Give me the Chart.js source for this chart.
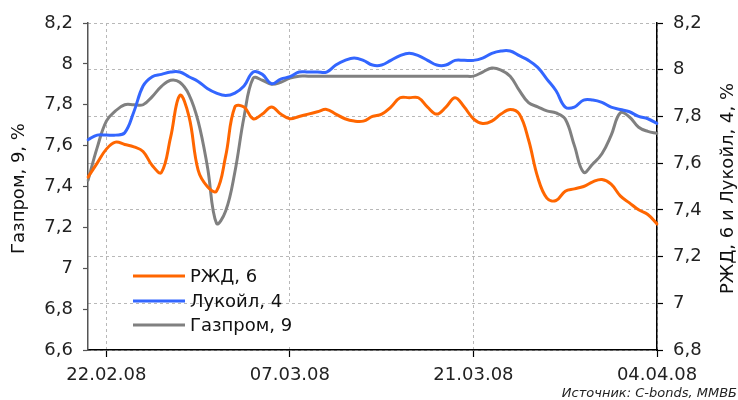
<!DOCTYPE html>
<html><head><meta charset="utf-8">
<script src="https://cdn.jsdelivr.net/npm/chart.js@4/dist/chart.umd.min.js"></script>
<style>html,body{margin:0;padding:0;background:#fff}#wrap{width:738px;height:400px;position:relative}</style>
</head><body><div id="wrap"><canvas id="c" width="738" height="400"></canvas></div>
<script>
// x-axis tick labels and the sample position (half business-day steps) where each falls
const tickLabels = ['22.02.08', '07.03.08', '21.03.08', '04.04.08'];
const tickIdx = [2, 22, 42, 62];

// РЖД, 6 (right axis)
const rzd = [7.54,7.60,7.66,7.69,7.68,7.67,7.65,7.59,7.56,7.71,7.89,7.80,7.57,7.50,7.48,7.63,7.84,7.84,7.79,7.81,
  7.84,7.81,7.79,7.80,7.81,7.82,7.83,7.81,7.79,7.78,7.78,7.80,7.81,7.84,7.88,7.88,7.88,7.84,7.81,7.84,
  7.88,7.84,7.79,7.77,7.78,7.81,7.83,7.81,7.70,7.54,7.45,7.44,7.48,7.49,7.50,7.52,7.53,7.51,7.46,7.43,
  7.40,7.38,7.34];
// Лукойл, 4 (right axis)
const lukoil = [7.70,7.72,7.72,7.72,7.73,7.82,7.93,7.97,7.98,7.99,7.99,7.97,7.95,7.92,7.90,7.89,7.90,7.93,7.99,7.98,
  7.94,7.96,7.97,7.99,7.99,7.99,7.99,8.02,8.04,8.05,8.04,8.02,8.02,8.04,8.06,8.07,8.06,8.04,8.02,8.02,
  8.04,8.04,8.04,8.05,8.07,8.08,8.08,8.06,8.04,8.01,7.96,7.91,7.84,7.84,7.87,7.87,7.86,7.84,7.83,7.82,
  7.80,7.79,7.77];
// Газпром, 9 (left axis)
const gazprom = [7.43,7.59,7.72,7.77,7.80,7.80,7.80,7.84,7.89,7.92,7.91,7.85,7.72,7.50,7.22,7.28,7.47,7.74,7.93,7.92,
  7.90,7.91,7.93,7.94,7.94,7.94,7.94,7.94,7.94,7.94,7.94,7.94,7.94,7.94,7.94,7.94,7.94,7.94,7.94,7.94,
  7.94,7.94,7.94,7.96,7.98,7.97,7.94,7.87,7.81,7.79,7.77,7.76,7.73,7.60,7.47,7.51,7.56,7.65,7.76,7.74,
  7.69,7.67,7.66];

const seriesNames = ['РЖД, 6', 'Лукойл, 4', 'Газпром, 9'];
const leftTitle = 'Газпром, 9, %';
const rightTitle = 'РЖД, 6 и Лукойл, 4, %';
const sourceText = 'Источник: C-bonds, ММВБ';

const xLabels = rzd.map((_, i) => { const k = tickIdx.indexOf(i); return k >= 0 ? tickLabels[k] : ''; });
const FONT = "'DejaVu Sans', Verdana, sans-serif";
const fmt = v => { const r = Math.round(v * 10) / 10; return String(r).replace('.', ','); };

const extras = {
  id: 'extras',
  beforeDatasetsDraw(chart) {
    const ctx = chart.ctx;
    ctx.save();
    ctx.fillStyle = '#fff';
    ctx.fillRect(108, 305, 212, 42);
    ctx.restore();
  },
  afterDatasetsDraw(chart) {
    const ctx = chart.ctx;
    const ds = chart.data.datasets;
    ctx.save();
    // legend
    const rows = [276, 301, 325];
    ctx.font = '18px ' + FONT;
    ctx.textBaseline = 'middle';
    ctx.textAlign = 'left';
    ds.forEach((d, i) => {
      ctx.strokeStyle = d.borderColor;
      ctx.lineWidth = 3;
      ctx.beginPath(); ctx.moveTo(133, rows[i]); ctx.lineTo(185, rows[i]); ctx.stroke();
      ctx.fillStyle = '#111';
      ctx.fillText(d.label, 190, rows[i] + 1);
    });
    // axis titles
    const ca = chart.chartArea;
    const cy = (ca.top + ca.bottom) / 2 + 2;
    ctx.font = '18px ' + FONT;
    ctx.textAlign = 'center';
    ctx.textBaseline = 'middle';
    ctx.fillStyle = '#111';
    ctx.translate(19, cy); ctx.rotate(-Math.PI / 2); ctx.fillText(leftTitle, 0, 0);
    ctx.setTransform(1, 0, 0, 1, 0, 0);
    ctx.translate(728, cy); ctx.rotate(-Math.PI / 2); ctx.fillText(rightTitle, 0, 0);
    ctx.setTransform(1, 0, 0, 1, 0, 0);
    // source
    ctx.font = 'italic 13px ' + FONT;
    ctx.textAlign = 'right';
    ctx.textBaseline = 'alphabetic';
    ctx.fillStyle = '#222';
    ctx.fillText(sourceText, 737, 397);
    ctx.restore();
  }
};

new Chart(document.getElementById('c'), {
  type: 'line',
  data: {
    labels: xLabels,
    datasets: [
      { label: seriesNames[0], data: rzd, borderColor: '#FF6600', yAxisID: 'yR' },
      { label: seriesNames[1], data: lukoil, borderColor: '#3366FF', yAxisID: 'yR' },
      { label: seriesNames[2], data: gazprom, borderColor: '#808080', yAxisID: 'yL' }
    ]
  },
  options: {
    responsive: false,
    animation: false,
    devicePixelRatio: 1,
    layout: { padding: { top: 23, left: 0, right: 0, bottom: 0 } },
    elements: {
      line: { borderWidth: 3, tension: 0.4, fill: false, borderCapStyle: 'round', borderJoinStyle: 'round' },
      point: { radius: 0 }
    },
    plugins: { legend: { display: false }, tooltip: { enabled: false } },
    scales: {
      x: {
        type: 'category',
        grid: { color: '#b8b8b8', lineWidth: 1, tickLength: 7, tickColor: '#000', tickWidth: 1.2, tickBorderDash: [] },
        border: { color: '#000', width: 1.5, dash: [3, 3] },
        ticks: {
          autoSkip: false, maxRotation: 0, minRotation: 0, padding: 8, color: '#222',
          font: { family: FONT, size: 18 },
          callback(v) { const l = this.getLabelForValue(v); return l === '' ? null : l; }
        },
        afterFit(s) { s.height = 50; }
      },
      yL: {
        position: 'left', min: 6.6, max: 8.2,
        grid: { drawOnChartArea: false, tickLength: 5, tickColor: '#555', tickWidth: 1.2 },
        border: { color: '#555', width: 1.5 },
        ticks: { stepSize: 0.2, padding: 10, color: '#222', font: { family: FONT, size: 18 }, callback: v => fmt(v) },
        afterFit(s) { s.width = 88; }
      },
      yR: {
        position: 'right', min: 6.8, max: 8.2,
        grid: { color: '#b8b8b8', lineWidth: 1, tickLength: 6, tickColor: '#000', tickWidth: 1.2, tickBorderDash: [] },
        border: { color: '#000', width: 1.5, dash: [3, 3] },
        ticks: { stepSize: 0.2, padding: 10, color: '#222', font: { family: FONT, size: 18 }, callback: v => fmt(v) },
        afterFit(s) { s.width = 81; }
      }
    }
  },
  plugins: [extras]
});
</script></body></html>
